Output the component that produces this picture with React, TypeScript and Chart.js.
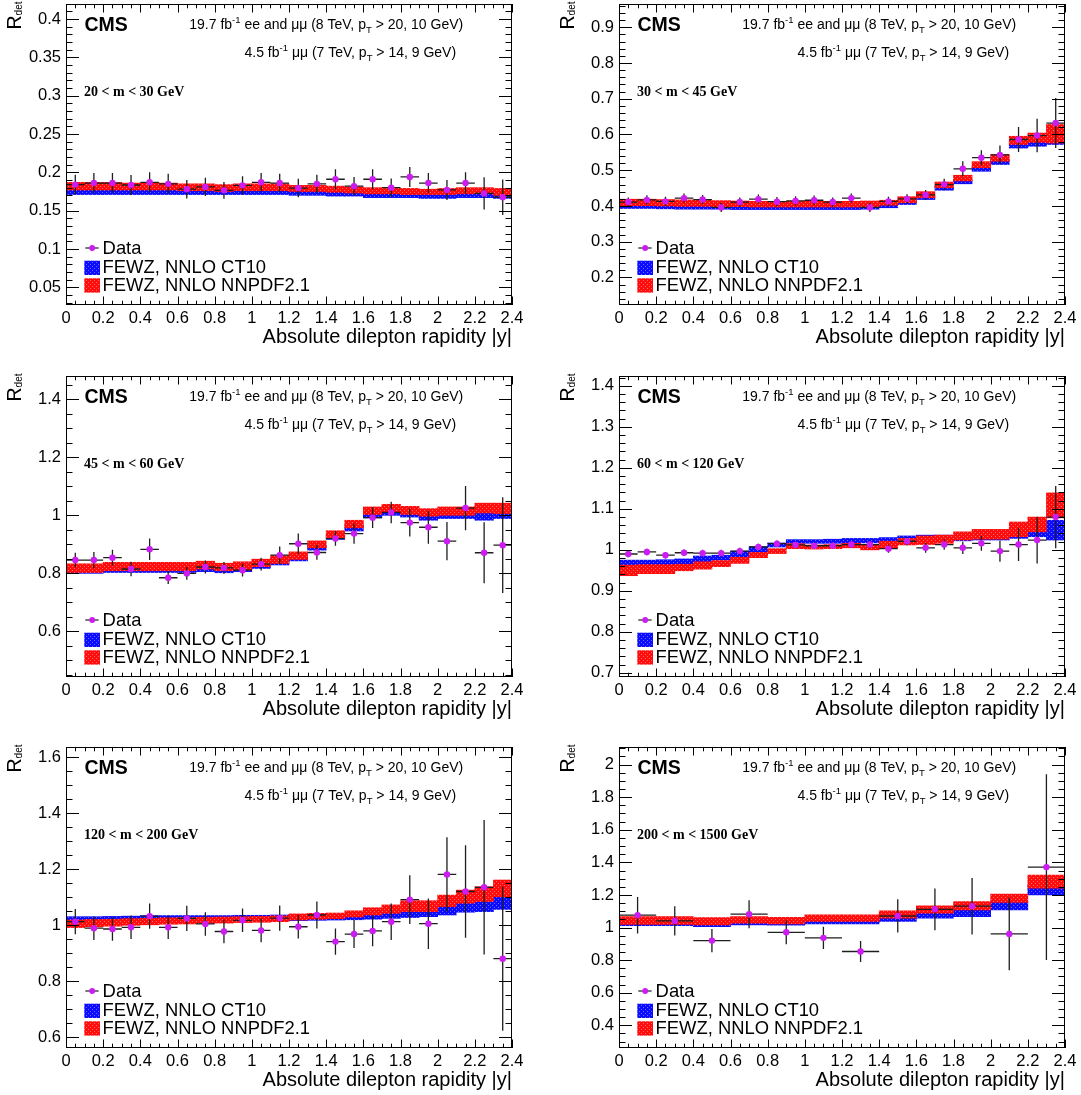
import React, { useEffect, useRef } from "react";
import { Chart, registerables } from "chart.js";

Chart.register(...registerables);

const SANS = '"Liberation Sans", Arial, Helvetica, sans-serif';
const SERIF = '"Liberation Serif", "Times New Roman", Times, serif';

// ---------------- shared texts / axes ----------------
const X_TICKS = [0, 0.2, 0.4, 0.6, 0.8, 1, 1.2, 1.4, 1.6, 1.8, 2, 2.2, 2.4];
const X_MINOR_DIV = 4;
const X_TITLE = "Absolute dilepton rapidity |y|";
const Y_TITLE = "R";
const Y_TITLE_SUB = "det";
const EXPERIMENT = "CMS";
const LEGEND_LABELS = ["Data", "FEWZ, NNLO CT10", "FEWZ, NNLO NNPDF2.1"];
const HEADER_1 = [
  { t: "19.7 fb", k: "n" },
  { t: "-1", k: "sup" },
  { t: " ee and \u03bc\u03bc (8 TeV, p", k: "n" },
  { t: "T", k: "sub" },
  { t: " > 20, 10 GeV)", k: "n" },
];
const HEADER_2 = [
  { t: "4.5 fb", k: "n" },
  { t: "-1", k: "sup" },
  { t: " \u03bc\u03bc (7 TeV, p", k: "n" },
  { t: "T", k: "sub" },
  { t: " > 14, 9 GeV)", k: "n" },
];

// ---------------- bins ----------------
const BINS_24 = [0.05, 0.15, 0.25, 0.35, 0.45, 0.55, 0.65, 0.75, 0.85, 0.95, 1.05, 1.15, 1.25, 1.35, 1.45, 1.55, 1.65, 1.75, 1.85, 1.95, 2.05, 2.15, 2.25, 2.35];
const BINS_12 = [0.1, 0.3, 0.5, 0.7, 0.9, 1.1, 1.3, 1.5, 1.7, 1.9, 2.1, 2.3];

// ---------------- panel 1: 20 < m < 30 GeV ----------------
const P1_MASS = "20 < m < 30 GeV";
const P1_Y_TICKS = [0.05, 0.1, 0.15, 0.2, 0.25, 0.3, 0.35, 0.4];
const P1_DATA = [0.184, 0.186, 0.186, 0.1835, 0.187, 0.185, 0.178, 0.181, 0.1765, 0.183, 0.187, 0.186, 0.1795, 0.185, 0.191, 0.182, 0.191, 0.18, 0.194, 0.186, 0.177, 0.186, 0.1725, 0.1675];
const P1_ERR = [0.013, 0.013, 0.013, 0.013, 0.013, 0.013, 0.012, 0.012, 0.011, 0.012, 0.012, 0.012, 0.012, 0.012, 0.013, 0.012, 0.013, 0.012, 0.013, 0.013, 0.013, 0.014, 0.021, 0.023];
const P1_CT10_LO = [0.171, 0.171, 0.171, 0.171, 0.171, 0.171, 0.171, 0.171, 0.171, 0.171, 0.171, 0.171, 0.17, 0.17, 0.169, 0.169, 0.167, 0.167, 0.167, 0.166, 0.166, 0.167, 0.167, 0.166];
const P1_CT10_HI = [0.179, 0.179, 0.179, 0.179, 0.179, 0.179, 0.178, 0.178, 0.178, 0.178, 0.179, 0.178, 0.178, 0.177, 0.177, 0.177, 0.175, 0.175, 0.175, 0.174, 0.175, 0.175, 0.175, 0.174];
const P1_NNPDF_LO = [0.177, 0.177, 0.177, 0.177, 0.177, 0.177, 0.176, 0.176, 0.175, 0.176, 0.176, 0.176, 0.175, 0.175, 0.174, 0.173, 0.172, 0.172, 0.171, 0.171, 0.171, 0.172, 0.172, 0.17];
const P1_NNPDF_HI = [0.187, 0.187, 0.187, 0.186, 0.186, 0.186, 0.185, 0.185, 0.184, 0.185, 0.185, 0.185, 0.183, 0.183, 0.182, 0.181, 0.18, 0.179, 0.179, 0.178, 0.179, 0.18, 0.18, 0.179];

// ---------------- panel 2: 30 < m < 45 GeV ----------------
const P2_MASS = "30 < m < 45 GeV";
const P2_Y_TICKS = [0.2, 0.3, 0.4, 0.5, 0.6, 0.7, 0.8, 0.9];
const P2_DATA = [0.411, 0.417, 0.413, 0.422, 0.418, 0.396, 0.411, 0.419, 0.412, 0.414, 0.416, 0.411, 0.422, 0.396, 0.413, 0.42, 0.431, 0.46, 0.504, 0.535, 0.543, 0.586, 0.597, 0.632];
const P2_ERR = [0.013, 0.013, 0.013, 0.013, 0.013, 0.013, 0.013, 0.013, 0.013, 0.013, 0.013, 0.013, 0.013, 0.013, 0.013, 0.013, 0.014, 0.016, 0.021, 0.021, 0.026, 0.035, 0.047, 0.07];
const P2_CT10_LO = [0.393, 0.393, 0.392, 0.391, 0.391, 0.391, 0.39, 0.39, 0.39, 0.39, 0.39, 0.39, 0.39, 0.391, 0.395, 0.404, 0.418, 0.444, 0.462, 0.497, 0.516, 0.562, 0.567, 0.572];
const P2_CT10_HI = [0.408, 0.408, 0.407, 0.406, 0.406, 0.406, 0.405, 0.405, 0.405, 0.405, 0.405, 0.405, 0.405, 0.406, 0.409, 0.417, 0.43, 0.456, 0.474, 0.511, 0.53, 0.581, 0.59, 0.604];
const P2_NNPDF_LO = [0.401, 0.401, 0.4, 0.399, 0.399, 0.398, 0.398, 0.397, 0.397, 0.397, 0.397, 0.397, 0.397, 0.398, 0.402, 0.409, 0.423, 0.451, 0.47, 0.507, 0.525, 0.572, 0.578, 0.576];
const P2_NNPDF_HI = [0.419, 0.419, 0.418, 0.417, 0.416, 0.415, 0.414, 0.413, 0.413, 0.413, 0.413, 0.413, 0.413, 0.414, 0.416, 0.426, 0.44, 0.467, 0.486, 0.524, 0.544, 0.595, 0.604, 0.628];

// ---------------- panel 3: 45 < m < 60 GeV ----------------
const P3_MASS = "45 < m < 60 GeV";
const P3_Y_TICKS = [0.6, 0.8, 1, 1.2, 1.4];
const P3_DATA = [0.846, 0.846, 0.854, 0.815, 0.883, 0.785, 0.8, 0.822, 0.819, 0.811, 0.832, 0.863, 0.902, 0.872, 0.92, 0.937, 0.992, 1.01, 0.975, 0.959, 0.911, 1.025, 0.871, 0.897];
const P3_ERR = [0.025, 0.028, 0.027, 0.025, 0.037, 0.022, 0.022, 0.022, 0.02, 0.022, 0.022, 0.03, 0.035, 0.025, 0.025, 0.035, 0.036, 0.037, 0.048, 0.057, 0.066, 0.076, 0.105, 0.165];
const P3_CT10_LO = [0.8, 0.8, 0.803, 0.803, 0.803, 0.803, 0.803, 0.806, 0.802, 0.806, 0.817, 0.829, 0.843, 0.88, 0.917, 0.946, 0.991, 1.0, 0.994, 0.983, 0.989, 0.989, 0.983, 0.989];
const P3_CT10_HI = [0.815, 0.815, 0.821, 0.821, 0.821, 0.821, 0.821, 0.824, 0.819, 0.823, 0.832, 0.842, 0.857, 0.897, 0.931, 0.966, 1.011, 1.019, 1.011, 1.003, 1.009, 1.009, 1.011, 1.009];
const P3_NNPDF_LO = [0.803, 0.803, 0.809, 0.809, 0.809, 0.809, 0.809, 0.815, 0.809, 0.812, 0.823, 0.834, 0.848, 0.888, 0.922, 0.957, 1.003, 1.011, 1.003, 0.997, 1.0, 1.0, 1.008, 1.006];
const P3_NNPDF_HI = [0.833, 0.833, 0.838, 0.838, 0.838, 0.838, 0.838, 0.842, 0.835, 0.84, 0.849, 0.861, 0.874, 0.912, 0.947, 0.983, 1.029, 1.038, 1.031, 1.023, 1.029, 1.029, 1.042, 1.042];

// ---------------- panel 4: 60 < m < 120 GeV ----------------
const P4_MASS = "60 < m < 120 GeV";
const P4_Y_TICKS = [0.7, 0.8, 0.9, 1, 1.1, 1.2, 1.3, 1.4];
const P4_DATA = [0.99, 0.995, 0.987, 0.993, 0.992, 0.992, 0.997, 1.007, 1.015, 1.012, 1.01, 1.01, 1.013, 1.013, 1.003, 1.021, 1.005, 1.013, 1.005, 1.016, 0.997, 1.013, 1.024, 1.08];
const P4_ERR = [0.008, 0.008, 0.008, 0.008, 0.008, 0.008, 0.008, 0.008, 0.008, 0.008, 0.008, 0.008, 0.008, 0.008, 0.01, 0.01, 0.012, 0.013, 0.015, 0.018, 0.026, 0.04, 0.057, 0.076];
const P4_CT10_LO = [0.961, 0.961, 0.962, 0.965, 0.971, 0.975, 0.983, 0.995, 1.007, 1.016, 1.016, 1.016, 1.017, 1.017, 1.02, 1.021, 1.024, 1.024, 1.022, 1.024, 1.024, 1.028, 1.032, 1.024];
const P4_CT10_HI = [0.975, 0.975, 0.976, 0.978, 0.985, 0.987, 0.997, 1.008, 1.017, 1.025, 1.025, 1.026, 1.028, 1.028, 1.03, 1.034, 1.036, 1.036, 1.036, 1.04, 1.04, 1.044, 1.052, 1.072];
const P4_NNPDF_LO = [0.937, 0.942, 0.942, 0.949, 0.953, 0.959, 0.967, 0.981, 0.991, 1.003, 1.002, 1.003, 1.005, 1.0, 1.005, 1.012, 1.013, 1.016, 1.024, 1.026, 1.026, 1.032, 1.044, 1.078];
const P4_NNPDF_HI = [0.963, 0.964, 0.964, 0.965, 0.971, 0.974, 0.982, 0.994, 1.003, 1.015, 1.012, 1.013, 1.016, 1.012, 1.021, 1.028, 1.034, 1.036, 1.044, 1.05, 1.05, 1.068, 1.08, 1.139];

// ---------------- panel 5: 120 < m < 200 GeV ----------------
const P5_MASS = "120 < m < 200 GeV";
const P5_Y_TICKS = [0.6, 0.8, 1, 1.2, 1.4, 1.6];
const P5_DATA = [1.013, 0.99, 0.987, 0.993, 1.033, 0.993, 1.025, 1.005, 0.978, 1.018, 0.982, 1.026, 0.995, 1.037, 0.942, 0.969, 0.98, 1.013, 1.092, 1.006, 1.182, 1.121, 1.136, 0.881];
const P5_ERR = [0.045, 0.042, 0.042, 0.042, 0.045, 0.042, 0.045, 0.042, 0.042, 0.042, 0.042, 0.045, 0.042, 0.048, 0.047, 0.05, 0.055, 0.065, 0.087, 0.09, 0.133, 0.165, 0.24, 0.257];
const P5_CT10_LO = [1.007, 1.008, 1.009, 1.01, 1.012, 1.013, 1.013, 1.014, 1.014, 1.015, 1.015, 1.016, 1.017, 1.018, 1.019, 1.02, 1.022, 1.025, 1.028, 1.031, 1.037, 1.047, 1.049, 1.057];
const P5_CT10_HI = [1.031, 1.031, 1.032, 1.033, 1.035, 1.035, 1.035, 1.035, 1.035, 1.036, 1.036, 1.037, 1.038, 1.039, 1.04, 1.041, 1.043, 1.049, 1.055, 1.058, 1.073, 1.079, 1.085, 1.105];
const P5_NNPDF_LO = [0.992, 0.995, 0.997, 1.0, 1.002, 1.004, 1.005, 1.007, 1.008, 1.01, 1.011, 1.013, 1.019, 1.022, 1.024, 1.03, 1.037, 1.043, 1.049, 1.049, 1.067, 1.079, 1.085, 1.102];
const P5_NNPDF_HI = [1.019, 1.021, 1.022, 1.024, 1.025, 1.027, 1.028, 1.029, 1.03, 1.031, 1.032, 1.034, 1.041, 1.043, 1.044, 1.052, 1.063, 1.073, 1.088, 1.088, 1.108, 1.126, 1.138, 1.162];

// ---------------- panel 6: 200 < m < 1500 GeV ----------------
const P6_MASS = "200 < m < 1500 GeV";
const P6_Y_TICKS = [0.4, 0.6, 0.8, 1, 1.2, 1.4, 1.6, 1.8, 2];
const P6_DATA = [1.076, 1.041, 0.92, 1.082, 0.971, 0.937, 0.853, 1.071, 1.112, 1.131, 0.961, 1.371];
const P6_ERR = [0.112, 0.09, 0.071, 0.086, 0.073, 0.068, 0.064, 0.102, 0.128, 0.173, 0.223, 0.57];
const P6_CT10_LO = [1.012, 1.012, 1.006, 1.016, 1.014, 1.022, 1.022, 1.037, 1.057, 1.067, 1.108, 1.2];
const P6_CT10_HI = [1.047, 1.047, 1.041, 1.047, 1.045, 1.057, 1.057, 1.078, 1.098, 1.118, 1.159, 1.261];
const P6_NNPDF_LO = [1.02, 1.02, 1.016, 1.027, 1.023, 1.037, 1.037, 1.057, 1.088, 1.108, 1.155, 1.241];
const P6_NNPDF_HI = [1.067, 1.067, 1.061, 1.067, 1.063, 1.078, 1.078, 1.102, 1.133, 1.159, 1.206, 1.322];

const PANELS = [
  { mass: P1_MASS, bins: BINS_24, half: 0.05, yMin: 0.027, yMax: 0.4195, yTicks: P1_Y_TICKS, yMinorDiv: 5, data: P1_DATA, err: P1_ERR, ctLo: P1_CT10_LO, ctHi: P1_CT10_HI, nnLo: P1_NNPDF_LO, nnHi: P1_NNPDF_HI },
  { mass: P2_MASS, bins: BINS_24, half: 0.05, yMin: 0.123, yMax: 0.965, yTicks: P2_Y_TICKS, yMinorDiv: 5, data: P2_DATA, err: P2_ERR, ctLo: P2_CT10_LO, ctHi: P2_CT10_HI, nnLo: P2_NNPDF_LO, nnHi: P2_NNPDF_HI },
  { mass: P3_MASS, bins: BINS_24, half: 0.05, yMin: 0.443, yMax: 1.48, yTicks: P3_Y_TICKS, yMinorDiv: 4, data: P3_DATA, err: P3_ERR, ctLo: P3_CT10_LO, ctHi: P3_CT10_HI, nnLo: P3_NNPDF_LO, nnHi: P3_NNPDF_HI },
  { mass: P4_MASS, bins: BINS_24, half: 0.05, yMin: 0.69, yMax: 1.424, yTicks: P4_Y_TICKS, yMinorDiv: 5, data: P4_DATA, err: P4_ERR, ctLo: P4_CT10_LO, ctHi: P4_CT10_HI, nnLo: P4_NNPDF_LO, nnHi: P4_NNPDF_HI },
  { mass: P5_MASS, bins: BINS_24, half: 0.05, yMin: 0.562, yMax: 1.637, yTicks: P5_Y_TICKS, yMinorDiv: 4, data: P5_DATA, err: P5_ERR, ctLo: P5_CT10_LO, ctHi: P5_CT10_HI, nnLo: P5_NNPDF_LO, nnHi: P5_NNPDF_HI },
  { mass: P6_MASS, bins: BINS_12, half: 0.1, yMin: 0.261, yMax: 2.108, yTicks: P6_Y_TICKS, yMinorDiv: 4, data: P6_DATA, err: P6_ERR, ctLo: P6_CT10_LO, ctHi: P6_CT10_HI, nnLo: P6_NNPDF_LO, nnHi: P6_NNPDF_HI },
];

// ---------------- layout / style ----------------
const COL_LEFT = [0, 553];
const COL_WIDTH = [545, 535];
const COL_RIGHT_PAD = [33, 23];
const ROW_TOP = [-10, 362, 733];
const CANVAS_H = 370;
const MARKER = "#cc1cf2";

function makePattern(base: string, light: string): any {
  const c = document.createElement("canvas");
  c.width = 4;
  c.height = 4;
  const g = c.getContext("2d");
  if (!g) return base;
  g.fillStyle = base;
  g.fillRect(0, 0, 4, 4);
  g.fillStyle = light;
  g.fillRect(0, 0, 1, 1);
  g.fillRect(2, 2, 1, 1);
  return g.createPattern(c, "repeat") || base;
}

function drawRich(ctx: CanvasRenderingContext2D, segs: any[], x: number, y: number, size: number) {
  let cx = x;
  for (const s of segs) {
    let sz = size;
    let dy = 0;
    if (s.k === "sup") {
      sz = size * 0.68;
      dy = -size * 0.42;
    } else if (s.k === "sub") {
      sz = size * 0.68;
      dy = size * 0.28;
    }
    ctx.font = `${sz}px ${SANS}`;
    ctx.fillText(s.t, cx, y + dy);
    cx += ctx.measureText(s.t).width;
  }
}

function minorValues(ticks: number[], div: number, min: number, max: number) {
  const step = (ticks[1] - ticks[0]) / div;
  const start = ticks[0] - Math.floor((ticks[0] - min) / step + 1e-9) * step;
  const out: number[] = [];
  for (let n = 0; ; n++) {
    const v = start + n * step;
    if (v > max + 1e-9) break;
    const isMajor = ticks.some((t) => Math.abs(t - v) < step * 0.01);
    if (!isMajor) out.push(v);
  }
  return out;
}

function Panel({ cfg, col, row }: { cfg: any; col: number; row: number }) {
  const ref = useRef<HTMLCanvasElement>(null);
  const width = COL_WIDTH[col];

  useEffect(() => {
    const canvas = ref.current;
    if (!canvas) return;
    const blue = makePattern("#0c0cff", "#6a6aff");
    const red = makePattern("#ff0c0c", "#ff6a6a");

    const decor = {
      id: "decor" + col + row,
      beforeDatasetDraw(chart: any, args: any) {
        if (args.index !== 0) return;
        const ctx = chart.ctx as CanvasRenderingContext2D;
        const xs = chart.scales.x;
        const ys = chart.scales.y;
        const a = chart.chartArea;
        ctx.save();
        ctx.beginPath();
        ctx.rect(a.left, a.top, a.right - a.left, a.bottom - a.top);
        ctx.clip();
        ctx.strokeStyle = "#1e1e1e";
        ctx.lineWidth = 1.3;
        ctx.beginPath();
        for (let i = 0; i < cfg.bins.length; i++) {
          const px = xs.getPixelForValue(cfg.bins[i]);
          const py = ys.getPixelForValue(cfg.data[i]);
          const x0 = xs.getPixelForValue(cfg.bins[i] - cfg.half);
          const x1 = xs.getPixelForValue(cfg.bins[i] + cfg.half);
          const y0 = ys.getPixelForValue(cfg.data[i] - cfg.err[i]);
          const y1 = ys.getPixelForValue(cfg.data[i] + cfg.err[i]);
          ctx.moveTo(x0, py);
          ctx.lineTo(x1, py);
          ctx.moveTo(px, y0);
          ctx.lineTo(px, y1);
        }
        ctx.stroke();
        ctx.restore();
      },
      afterDraw(chart: any) {
        const ctx = chart.ctx as CanvasRenderingContext2D;
        const xs = chart.scales.x;
        const ys = chart.scales.y;
        const { left: L, right: R, top: T, bottom: B } = chart.chartArea;
        const snap = (v: number) => Math.round(v) + 0.5;
        ctx.save();
        // frame
        ctx.strokeStyle = "#000";
        ctx.lineWidth = 1;
        ctx.strokeRect(snap(L), snap(T), Math.round(R) - Math.round(L) - 1, Math.round(B) - Math.round(T) - 1);
        // ticks
        ctx.beginPath();
        const xMinor = minorValues(X_TICKS, X_MINOR_DIV, 0, 2.4);
        const xt = (v: number, len: number) => {
          const p = snap(xs.getPixelForValue(v));
          ctx.moveTo(p, B);
          ctx.lineTo(p, B - len);
          ctx.moveTo(p, T);
          ctx.lineTo(p, T + len);
        };
        X_TICKS.forEach((v) => xt(v, 8.5));
        xMinor.forEach((v) => xt(v, 4.3));
        const yMinor = minorValues(cfg.yTicks, cfg.yMinorDiv, cfg.yMin, cfg.yMax);
        const yt = (v: number, len: number) => {
          const p = snap(ys.getPixelForValue(v));
          ctx.moveTo(L, p);
          ctx.lineTo(L + len, p);
          ctx.moveTo(R, p);
          ctx.lineTo(R - len, p);
        };
        cfg.yTicks.forEach((v: number) => yt(v, 13));
        yMinor.forEach((v) => yt(v, 6.5));
        ctx.stroke();

        // texts
        ctx.fillStyle = "#000";
        ctx.textAlign = "left";
        ctx.textBaseline = "alphabetic";
        ctx.font = `bold 19.5px ${SANS}`;
        ctx.fillText(EXPERIMENT, L + 18.5, T + 26.7);
        drawRich(ctx, HEADER_1, L + 123.3, T + 25.3, 14);
        drawRich(ctx, HEADER_2, L + 178.5, T + 52.7, 14);
        ctx.font = `bold 14px ${SERIF}`;
        ctx.fillText(cfg.mass, L + 18, T + 91.5);

        // legend
        ctx.strokeStyle = "#1e1e1e";
        ctx.lineWidth = 1.2;
        ctx.beginPath();
        ctx.moveTo(L + 19.3, T + 244);
        ctx.lineTo(L + 32.6, T + 244);
        ctx.stroke();
        ctx.fillStyle = MARKER;
        ctx.beginPath();
        ctx.arc(L + 26.2, T + 244, 2.9, 0, Math.PI * 2);
        ctx.fill();
        ctx.fillStyle = blue;
        ctx.fillRect(L + 18.3, T + 256.7, 15.7, 14.3);
        ctx.fillStyle = red;
        ctx.fillRect(L + 18.3, T + 274.3, 15.7, 14.3);
        ctx.fillStyle = "#000";
        ctx.font = `18.4px ${SANS}`;
        ctx.fillText(LEGEND_LABELS[0], L + 36.6, T + 249.8);
        ctx.fillText(LEGEND_LABELS[1], L + 36.6, T + 269.3);
        ctx.fillText(LEGEND_LABELS[2], L + 36.6, T + 286.9);

        // y title R_det (rotated)
        ctx.translate(L - 45.5, T + 25.5);
        ctx.rotate(-Math.PI / 2);
        ctx.font = `19.5px ${SANS}`;
        ctx.fillText(Y_TITLE, 0, 0);
        const rw = ctx.measureText(Y_TITLE).width;
        ctx.font = `10px ${SANS}`;
        ctx.fillText(Y_TITLE_SUB, rw, 1.5);
        ctx.restore();
      },
    };

    const chart = new Chart(canvas, {
      type: "bar",
      data: {
        datasets: [
          {
            type: "scatter",
            label: LEGEND_LABELS[0],
            data: cfg.bins.map((x: number, i: number) => ({ x, y: cfg.data[i] })),
            order: 0,
            pointRadius: 3.2,
            pointHoverRadius: 3.2,
            pointBackgroundColor: MARKER,
            pointBorderColor: MARKER,
            pointBorderWidth: 0,
            showLine: false,
          } as any,
          {
            type: "bar",
            label: LEGEND_LABELS[2],
            data: cfg.bins.map((x: number, i: number) => ({ x, y: [cfg.nnLo[i], cfg.nnHi[i]] })),
            order: 1,
            backgroundColor: red,
            borderWidth: 0,
            barPercentage: 1,
            categoryPercentage: 1,
            grouped: false,
          } as any,
          {
            type: "bar",
            label: LEGEND_LABELS[1],
            data: cfg.bins.map((x: number, i: number) => ({ x, y: [cfg.ctLo[i], cfg.ctHi[i]] })),
            order: 2,
            backgroundColor: blue,
            borderWidth: 0,
            barPercentage: 1,
            categoryPercentage: 1,
            grouped: false,
          } as any,
        ],
      },
      options: {
        animation: false,
        responsive: false,
        maintainAspectRatio: false,
        events: [],
        layout: { padding: { top: 14, right: COL_RIGHT_PAD[col], bottom: 0, left: 0 } },
        plugins: { legend: { display: false }, tooltip: { enabled: false } },
        scales: {
          x: {
            type: "linear",
            min: 0,
            max: 2.4,
            offset: false,
            grid: { display: false, drawTicks: false },
            border: { display: false },
            ticks: {
              color: "#000",
              font: { family: SANS, size: 16.5, lineHeight: 1 },
              padding: 5,
              autoSkip: false,
              maxRotation: 0,
              minRotation: 0,
              callback: (v: any) => String(v),
            },
            afterBuildTicks: (s: any) => {
              s.ticks = X_TICKS.map((v) => ({ value: v }));
            },
            afterFit: (s: any) => {
              s.height = 55;
            },
            title: {
              display: true,
              text: X_TITLE,
              align: "end",
              color: "#000",
              font: { family: SANS, size: 20, lineHeight: 1.2 },
              padding: { top: 0, bottom: 11 },
            },
          },
          y: {
            type: "linear",
            min: cfg.yMin,
            max: cfg.yMax,
            beginAtZero: false,
            grid: { display: false, drawTicks: false },
            border: { display: false },
            ticks: {
              color: "#000",
              font: { family: SANS, size: 16.5, lineHeight: 1 },
              padding: 5,
              autoSkip: false,
              callback: (v: any) => String(v),
            },
            afterBuildTicks: (s: any) => {
              s.ticks = cfg.yTicks.map((v: number) => ({ value: v }));
            },
            afterFit: (s: any) => {
              s.width = 66;
            },
          },
        },
      } as any,
      plugins: [decor as any],
    });
    return () => chart.destroy();
  }, [cfg, col, row]);

  return (
    <canvas
      ref={ref}
      width={width}
      height={CANVAS_H}
      style={{ position: "absolute", left: COL_LEFT[col], top: ROW_TOP[row], width, height: CANVAS_H }}
    />
  );
}

export default function App() {
  return (
    <div
      style={{
        position: "fixed",
        left: 0,
        top: 0,
        width: 1081,
        height: 1095,
        overflow: "hidden",
        background: "#fff",
      }}
    >
      {PANELS.map((p, i) => (
        <Panel key={i} cfg={p} col={i % 2} row={Math.floor(i / 2)} />
      ))}
    </div>
  );
}
